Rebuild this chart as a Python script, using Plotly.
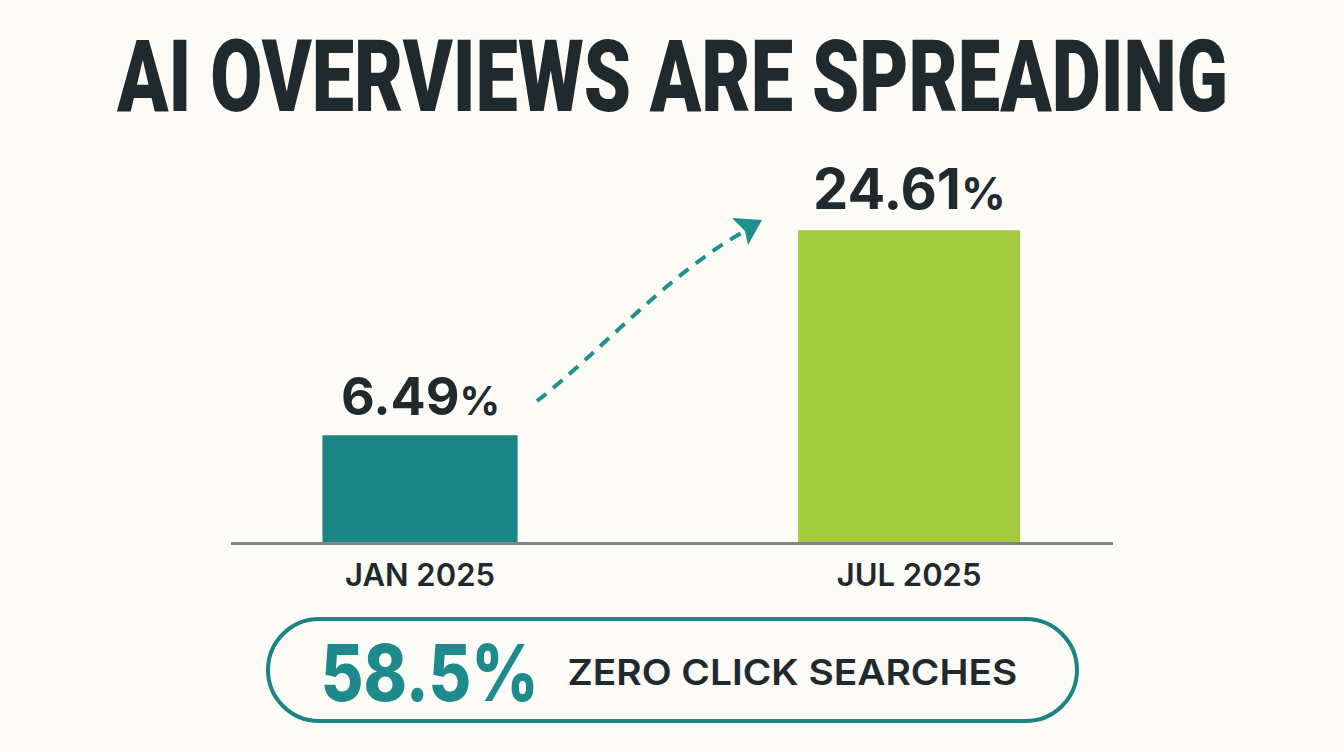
import numpy as np
import plotly.graph_objects as go

months = ["JAN 2025", "JUL 2025"]
share = [6.49, 24.61]
share_labels = ["6.49", "24.61"]
label_sizes = [52, 56]
title_text = "AI OVERVIEWS ARE SPREADING"
callout_value = "58.5%"
callout_label = "ZERO CLICK SEARCHES"

W, H = 1344, 752
L, R, T, B = 231, 231, 150, 210
INK = "#1F2A2E"
TEAL = "#1B8585"
LIME = "#A5C93F"
PAPER = "#FCFBF6"


def px(x):  # pixel x to paper x
    return (x - L) / (W - L - R)


def py(y):  # pixel y to paper y
    return (H - B - y) / (H - T - B)


def path(cmds):  # cmds is a list of (letter, x, y, x, y...) in pixels
    out = ""
    for c in cmds:
        out += c[0]
        vals = c[1:]
        pts = [f"{px(vals[i]):.5f},{py(vals[i + 1]):.5f}" for i in range(0, len(vals), 2)]
        out += " ".join(pts) + " "
    return out.strip()


fig = go.Figure()
fig.add_trace(go.Bar(x=months, y=share, width=[0.399, 0.454],
                     marker=dict(color=[TEAL, LIME], line_width=0)))

# labels over the bars
for m, v, lab, size in zip(months, share, share_labels, label_sizes):
    fig.add_annotation(x=m, y=np.log10(v), text=f'{lab}<span style="font-size:{size - 12}px">%</span>',
                       showarrow=False, yanchor="bottom", yshift=5,
                       font=dict(family="Inter", size=size, color=INK, weight=700))

fig.add_annotation(xref="paper", yref="paper", x=px(672), y=py(76), xanchor="center", yanchor="middle",
                   text=title_text, showarrow=False,
                   font=dict(family="Roboto", size=101, color=INK, weight=900))
fig.add_annotation(xref="paper", yref="paper", x=px(429), y=py(672), xanchor="center", yanchor="middle",
                   text=callout_value, showarrow=False,
                   font=dict(family="Inter", size=78, color="#1E8A8C", weight=800))
fig.add_annotation(xref="paper", yref="paper", x=px(792), y=py(672), xanchor="center", yanchor="middle",
                   text=callout_label, showarrow=False,
                   font=dict(family="Inter", size=36, color=INK, weight=600))

# dashed arrow between the bars
fig.add_shape(type="path", xref="paper", yref="paper",
              path=path([("M", 537, 401), ("C", 600, 352, 670, 272, 745, 231)]),
              line=dict(color="#1F9090", width=4, dash="12px,9px"))
fig.add_shape(type="path", xref="paper", yref="paper",
              path=path([("M", 732, 218), ("L", 762, 220), ("L", 748, 245), ("L", 745, 231)]) + " Z",
              fillcolor="#1F9090", line_width=0)

# pill round the callout
x0, x1, y0, y1, r, k = 268, 1077, 619, 721, 51, 28
fig.add_shape(type="path", xref="paper", yref="paper",
              path=path([("M", x0 + r, y0), ("L", x1 - r, y0),
                         ("C", x1 - r + k, y0, x1, y0 + r - k, x1, y0 + r),
                         ("C", x1, y1 - r + k, x1 - r + k, y1, x1 - r, y1),
                         ("L", x0 + r, y1),
                         ("C", x0 + r - k, y1, x0, y1 - r + k, x0, y0 + r),
                         ("C", x0, y0 + r - k, x0 + r - k, y0, x0 + r, y0)]) + " Z",
              line=dict(color=TEAL, width=4), fillcolor="rgba(0,0,0,0)")

fig.update_xaxes(type="category", range=[-0.3865, 1.417], showline=True, linecolor="#808582", linewidth=3,
                 ticks="", showgrid=False, zeroline=False, ticklabelstandoff=4,
                 tickfont=dict(family="Inter", size=31, color=INK, weight=600))
fig.update_yaxes(type="log", range=[np.log10(3.24), np.log10(3.24) + 1.107],
                 visible=False, showgrid=False, zeroline=False)
fig.update_layout(width=W, height=H, margin=dict(l=L, r=R, t=T, b=B), showlegend=False,
                  paper_bgcolor=PAPER, plot_bgcolor=PAPER)

# no body margin, and squeeze the texts that have no matching font here
squeeze = """
document.body.style.margin = '0';
var widths = {'AI OVERVIEWS ARE SPREADING': 1112, '58.5%': 218, 'ZERO CLICK SEARCHES': 450};
document.querySelectorAll('.annotation-text').forEach(function (t) {
    var w = widths[t.textContent];
    if (w) {
        var b = t.getBBox();
        var cx = b.x + b.width / 2;
        var sx = w / b.width;
        t.setAttribute('transform', 'translate(' + cx + ',0) scale(' + sx + ',1) translate(' + (-cx) + ',0)');
    }
});
"""
fig.write_html("out.html", post_script=squeeze, config={"displayModeBar": False})
